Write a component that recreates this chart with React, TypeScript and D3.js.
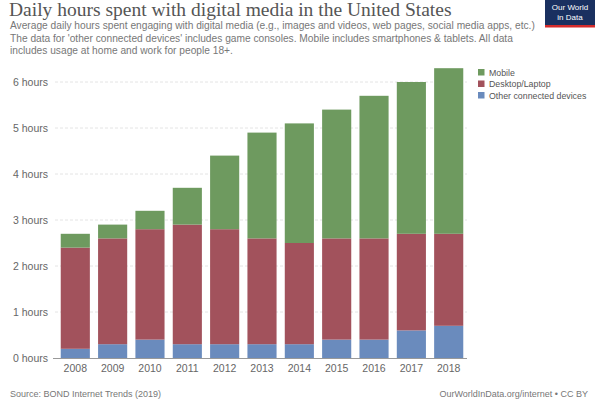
import React from "react";
import * as d3 from "d3";

const years = ["2008","2009","2010","2011","2012","2013","2014","2015","2016","2017","2018"];
const other = [0.2,0.3,0.4,0.3,0.3,0.3,0.3,0.4,0.4,0.6,0.7];
const desktop = [2.2,2.3,2.4,2.6,2.5,2.3,2.2,2.2,2.2,2.1,2.0];
const mobile = [0.3,0.3,0.4,0.8,1.6,2.3,2.6,2.8,3.1,3.3,3.6];
const yTicks = [0,1,2,3,4,5,6];
const seriesNames = ["Mobile","Desktop/Laptop","Other connected devices"];
const seriesKeys = ["mobile","desktop","other"];
const colors: Record<string,string> = { mobile: "#6e9a5f", desktop: "#a2525c", other: "#6a8bbd" };

export default function App() {
  const W = 600, H = 400;
  const x = d3.scaleBand().domain(years).range([57, 467]).paddingInner(0.22).paddingOuter(0.1);
  const y = d3.scaleLinear().domain([0, 6]).range([358, 82]);
  const rows = years.map((yr, i) => ({ year: yr, other: other[i], desktop: desktop[i], mobile: mobile[i] }));
  const stack = d3.stack<any>().keys(["other","desktop","mobile"]);
  const layers = stack(rows);
  const font = "'Liberation Sans', Arial, sans-serif";
  return (
    <svg width={W} height={H} style={{ position: "absolute", left: 0, top: 0, background: "#fff" }}>
      <rect width={W} height={H} fill="#fff" />
      <text x={9} y={16} fontFamily="'Liberation Serif', 'DejaVu Serif', serif" fontSize={19.5} fill="#555">Daily hours spent with digital media in the United States</text>
      <g fontFamily={font} fontSize={10.2} fill="#777">
        <text x={10} y={29}>Average daily hours spent engaging with digital media (e.g., images and videos, web pages, social media apps, etc.)</text>
        <text x={10} y={41.5}>The data for 'other connected devices' includes game consoles. Mobile includes smartphones &amp; tablets. All data</text>
        <text x={10} y={54}>includes usage at home and work for people 18+.</text>
      </g>
      <g>
        <rect x={545} y={0} width={50} height={25} fill="#1a3060" />
        <rect x={545} y={25} width={50} height={2.5} fill="#d42b2b" />
        <text x={570} y={10} textAnchor="middle" fontFamily={font} fontSize={8} fill="#fff">Our World</text>
        <text x={570} y={20} textAnchor="middle" fontFamily={font} fontSize={8} fill="#fff">in Data</text>
      </g>
      {yTicks.map(t => (
        <g key={t}>
          {t > 0 && <line x1={55} x2={467} y1={y(t)} y2={y(t)} stroke="#ddd" strokeDasharray="3,2" strokeWidth={0.8} />}
          <text x={48} y={y(t) + 3.5} textAnchor="end" fontFamily={font} fontSize={10.5} fill="#666">{t} hours</text>
        </g>
      ))}
      {layers.map(layer => (
        <g key={layer.key} fill={colors[layer.key]}>
          {layer.map((d, i) => (
            <rect key={i} x={x(years[i])} width={x.bandwidth()} y={y(d[1])} height={y(d[0]) - y(d[1])} />
          ))}
        </g>
      ))}
      <line x1={53} x2={467} y1={358.5} y2={358.5} stroke="#999" strokeWidth={1} />
      {years.map(yr => (
        <text key={yr} x={(x(yr) as number) + x.bandwidth() / 2} y={372} textAnchor="middle" fontFamily={font} fontSize={10.5} fill="#666">{yr}</text>
      ))}
      {seriesKeys.map((k, i) => (
        <g key={k}>
          <rect x={478} y={69 + i * 11.5} width={6.5} height={6.5} fill={colors[k]} />
          <text x={489} y={75.5 + i * 11.5} fontFamily={font} fontSize={8.8} fill="#555">{seriesNames[i]}</text>
        </g>
      ))}
      <text x={10} y={397} fontFamily={font} fontSize={9} fill="#777">Source: BOND Internet Trends (2019)</text>
      <text x={588} y={397} textAnchor="end" fontFamily={font} fontSize={9} fill="#777">OurWorldInData.org/internet • CC BY</text>
    </svg>
  );
}
